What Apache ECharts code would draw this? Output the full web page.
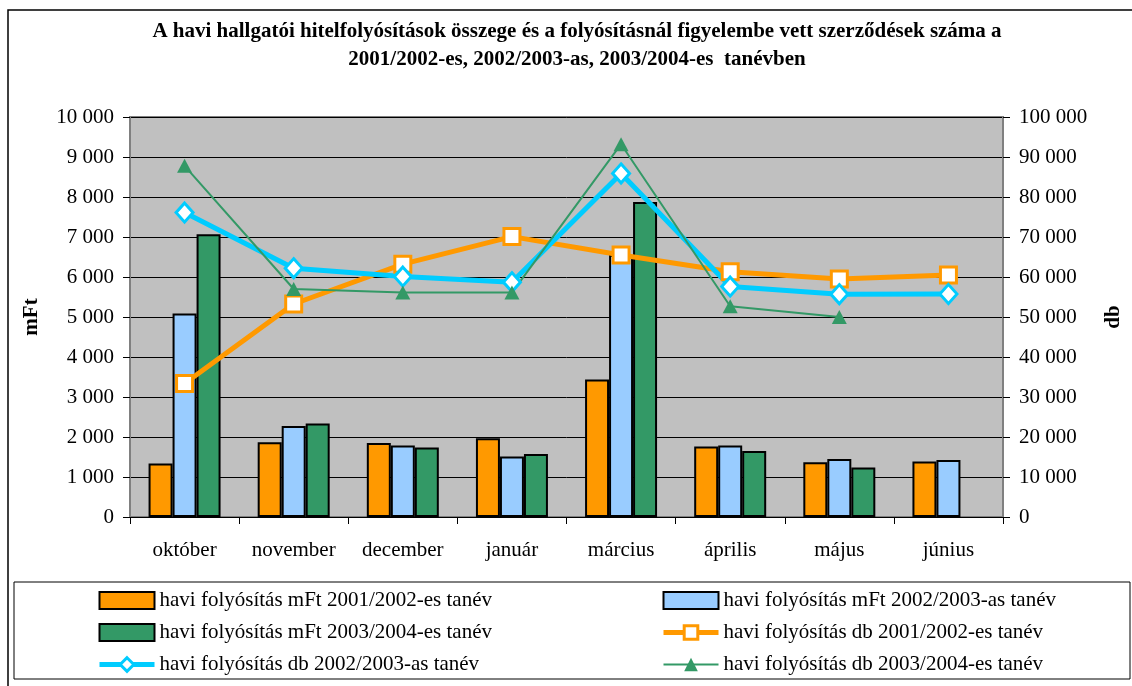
<!DOCTYPE html>
<html>
<head>
<meta charset="utf-8">
<script src="https://cdn.jsdelivr.net/npm/echarts@6/dist/echarts.min.js"></script>
<style>
  html, body { margin: 0; padding: 0; background: #fff; }
  #chart { width: 1132px; height: 686px; }
</style>
</head>
<body>
<div id="chart"></div>
<script>
// hónapok
const months = ['október', 'november', 'december', 'január', 'március', 'április', 'május', 'június']

// havi folyósítás mFt
const mft0102 = [1340, 1870, 1850, 1970, 3440, 1760, 1370, 1390]
const mft0203 = [5090, 2275, 1790, 1510, 6550, 1790, 1450, 1425]
const mft0304 = [7070, 2340, 1735, 1575, 7875, 1650, 1235, null]

// havi folyósítás db
const db0102 = [33400, 53250, 63200, 70100, 65500, 61300, 59500, 60500]
const db0203 = [76100, 62200, 60100, 58700, 85900, 57600, 55700, 55750]
const db0304 = [87800, 57000, 56100, 56100, 93200, 52700, 50000, null]

const FONT = '"Liberation Serif", "Times New Roman", serif'
const ORANGE = '#FF9900'
const BLUE = '#99CCFF'
const GREEN = '#339966'
const CYAN = '#00CCFF'

const names = {
  mft0102: 'havi folyósítás mFt 2001/2002-es tanév',
  mft0203: 'havi folyósítás mFt 2002/2003-as tanév',
  mft0304: 'havi folyósítás mFt 2003/2004-es tanév',
  db0102: 'havi folyósítás db 2001/2002-es tanév',
  db0203: 'havi folyósítás db 2002/2003-as tanév',
  db0304: 'havi folyósítás db 2003/2004-es tanév'
}

// ezres tagolás szóközzel
const fmt = (v) => String(v).replace(/\B(?=(\d{3})+(?!\d))/g, ' ')

const barSeries = (name, data, color) => ({
  name,
  type: 'bar',
  yAxisIndex: 0,
  barWidth: 24,
  barGap: '0%',
  itemStyle: { color, borderColor: '#000', borderWidth: 2 },
  data
})

const legendText = { fontFamily: FONT, fontSize: 21, color: '#000', lineHeight: 20 }
const barItem = (name) => ({ name, icon: 'rect' })

const option = {
  animation: false,
  textStyle: { fontFamily: FONT },
  title: {
    text: 'A havi hallgatói hitelfolyósítások összege és a folyósításnál figyelembe vett szerződések száma a\n2001/2002-es, 2002/2003-as, 2003/2004-es  tanévben',
    left: 572,
    top: 13,
    textAlign: 'center',
    textStyle: { fontFamily: FONT, fontSize: 21, fontWeight: 'bold', color: '#000', lineHeight: 28 }
  },
  graphic: [
    { type: 'rect', shape: { x: 8, y: 10, width: 1140, height: 700 }, style: { fill: 'none', stroke: '#000', lineWidth: 1.5 }, z: -1 },
    { type: 'rect', shape: { x: 14, y: 582, width: 1116, height: 97 }, style: { fill: 'none', stroke: '#000', lineWidth: 1 }, z: -1 }
  ],
  legend: [
    {
      orient: 'vertical', left: 92, top: 585, itemWidth: 55, itemHeight: 17, itemGap: 11,
      textStyle: legendText,
      data: [
        barItem(names.mft0102),
        barItem(names.mft0304),
        { name: names.db0203, lineStyle: { width: 5 }, itemStyle: { borderWidth: 3 } }
      ]
    },
    {
      orient: 'vertical', left: 656, top: 585, itemWidth: 55, itemHeight: 17, itemGap: 11,
      textStyle: legendText,
      data: [
        barItem(names.mft0203),
        { name: names.db0102, lineStyle: { width: 5 }, itemStyle: { borderWidth: 3 } },
        { name: names.db0304, lineStyle: { width: 2 } }
      ]
    }
  ],
  grid: {
    left: 130, right: 125, top: 117, bottom: 169,
    show: true, backgroundColor: '#C0C0C0', borderColor: '#808080', borderWidth: 2
  },
  xAxis: {
    type: 'category',
    data: months,
    axisLine: { lineStyle: { color: '#000', width: 1 } },
    axisTick: { show: true, interval: 0, length: 7, lineStyle: { color: '#000' } },
    axisLabel: { interval: 0, fontFamily: FONT, fontSize: 21, color: '#000', margin: 23 }
  },
  yAxis: [
    {
      type: 'value', min: 0, max: 10000, interval: 1000,
      name: 'mFt', nameLocation: 'middle', nameGap: 88, nameRotate: 90,
      nameTextStyle: { fontFamily: FONT, fontSize: 21, fontWeight: 'bold', color: '#000' },
      axisLine: { show: true, lineStyle: { color: '#808080', width: 2 } },
      axisTick: { show: true, length: 7, lineStyle: { color: '#000' } },
      axisLabel: { fontFamily: FONT, fontSize: 21, color: '#000', margin: 16, formatter: fmt },
      splitLine: { show: true, lineStyle: { color: '#000', width: 1 } }
    },
    {
      type: 'value', min: 0, max: 100000, interval: 10000,
      name: 'db', nameLocation: 'middle', nameGap: 100, nameRotate: 90,
      nameTextStyle: { fontFamily: FONT, fontSize: 21, fontWeight: 'bold', color: '#000' },
      axisLine: { show: true, lineStyle: { color: '#808080', width: 2 } },
      axisTick: { show: true, length: 7, lineStyle: { color: '#000' } },
      axisLabel: { fontFamily: FONT, fontSize: 21, color: '#000', margin: 16, formatter: fmt },
      splitLine: { show: false }
    }
  ],
  series: [
    barSeries(names.mft0102, mft0102, ORANGE),
    barSeries(names.mft0203, mft0203, BLUE),
    barSeries(names.mft0304, mft0304, GREEN),
    {
      name: names.db0102,
      type: 'line', yAxisIndex: 1,
      symbol: 'rect', symbolSize: 16,
      lineStyle: { color: ORANGE, width: 5 },
      itemStyle: { color: '#fff', borderColor: ORANGE, borderWidth: 3 },
      data: db0102
    },
    {
      name: names.db0203,
      type: 'line', yAxisIndex: 1,
      symbol: 'diamond', symbolSize: [17, 19],
      lineStyle: { color: CYAN, width: 5 },
      itemStyle: { color: '#fff', borderColor: CYAN, borderWidth: 3 },
      data: db0203
    },
    {
      name: names.db0304,
      type: 'line', yAxisIndex: 1,
      symbol: 'triangle', symbolSize: [15, 14],
      lineStyle: { color: GREEN, width: 2 },
      itemStyle: { color: GREEN },
      data: db0304
    }
  ]
}

const chart = echarts.init(document.getElementById('chart'))
chart.setOption(option)
</script>
</body>
</html>
